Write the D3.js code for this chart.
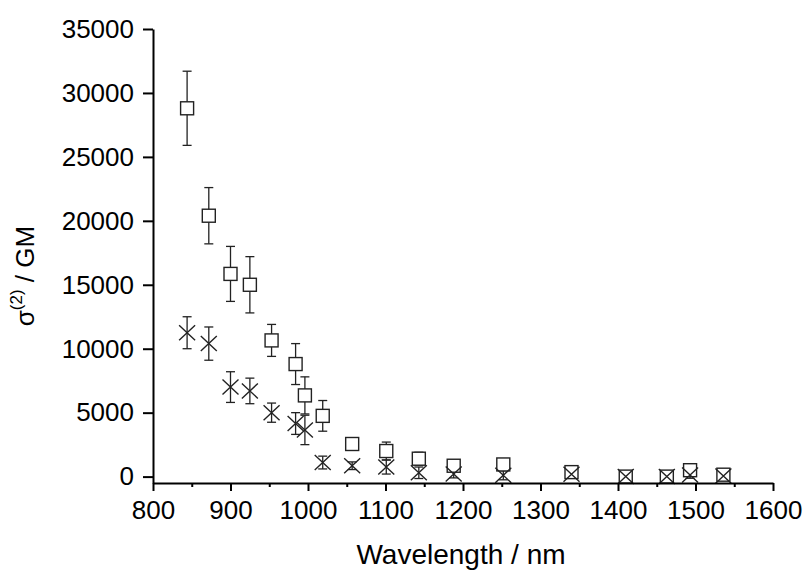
<!DOCTYPE html>
<html><head><meta charset="utf-8">
<script src="https://cdn.jsdelivr.net/npm/d3@7"></script>
<style>body{margin:0;background:#fff}svg{display:block}text{font-family:"Liberation Sans",Arial,sans-serif}</style>
</head><body><svg id="c" width="804" height="573"></svg>
<script>
const wavelengths = [844, 872, 900, 925, 953, 984, 996, 1019, 1057, 1101, 1143, 1188, 1252, 1340, 1410, 1463, 1493, 1536];
const squareVals = [28800, 20400, 15850, 15000, 10650, 8800, 6350, 4750, 2550, 2000, 1400, 850, 950, 350, 0, 0, 500, 150];
const squareErr  = [2900, 2200, 2150, 2200, 1250, 1600, 1450, 1200, 300, 700, 500, 250, 250, 200, 150, 150, 350, 200];
const crossVals  = [11250, 10400, 7000, 6700, 5000, 4150, 3650, 1100, 850, 750, 300, 200, 100, 180, 0, 0, 120, 50];
const crossErr   = [1250, 1300, 1200, 1000, 750, 850, 1150, 500, 300, 550, 450, 300, 350, 250, 150, 150, 250, 200];
const xTicks = [800, 900, 1000, 1100, 1200, 1300, 1400, 1500, 1600];
const yTicks = [0, 5000, 10000, 15000, 20000, 25000, 30000, 35000];

const svg = d3.select("#c");
const x = d3.scaleLinear().domain([800, 1600]).range([153, 773]);
const y = d3.scaleLinear().domain([-500, 35000]).range([483, 29]);
const col = "#222";

function errBars(vals, errs) {
  const g = svg.append("g").attr("stroke", col).attr("stroke-width", 1.3).attr("fill", "none");
  wavelengths.forEach((w, i) => {
    const cx = x(w), top = y(vals[i] + errs[i]), bot = y(vals[i] - errs[i]);
    g.append("line").attr("x1", cx).attr("x2", cx).attr("y1", top).attr("y2", bot);
    g.append("line").attr("x1", cx - 4.5).attr("x2", cx + 4.5).attr("y1", top).attr("y2", top);
    g.append("line").attr("x1", cx - 4.5).attr("x2", cx + 4.5).attr("y1", bot).attr("y2", bot);
  });
}
errBars(squareVals, squareErr);
errBars(crossVals, crossErr);

svg.append("g").selectAll("rect").data(wavelengths).join("rect")
  .attr("x", (d) => x(d) - 6.5).attr("y", (d, i) => y(squareVals[i]) - 6.5)
  .attr("width", 13).attr("height", 13)
  .attr("fill", "#fff").attr("stroke", col).attr("stroke-width", 1.4);

svg.append("g").selectAll("path").data(wavelengths).join("path")
  .attr("d", (d, i) => { const cx = x(d), cy = y(crossVals[i]);
    return `M${cx-8},${cy-7.5}L${cx+8},${cy+7.5}M${cx-8},${cy+7.5}L${cx+8},${cy-7.5}`; })
  .attr("fill", "none").attr("stroke", col).attr("stroke-width", 1.4);

svg.append("g").attr("class", "ax").attr("transform", "translate(0,483)")
  .call(d3.axisBottom(x).tickValues(xTicks).tickFormat(d3.format("d")).tickSize(8).tickSizeOuter(0).tickPadding(10));
svg.append("g").attr("class", "ax").attr("transform", "translate(0,483)")
  .call(d3.axisBottom(x).tickValues(d3.range(850, 1600, 100)).tickFormat("").tickSize(4).tickSizeOuter(0))
  .select(".domain").remove();
svg.append("g").attr("class", "ax").attr("transform", "translate(153,0)")
  .call(d3.axisLeft(y).tickValues(yTicks).tickFormat(d3.format("d")).tickSize(10).tickSizeOuter(0).tickPadding(9));
svg.selectAll(".ax").attr("font-size", null).attr("font-family", null);
svg.selectAll(".domain").attr("stroke", "#000").attr("stroke-width", 2);
svg.selectAll(".tick line").attr("stroke", "#000").attr("stroke-width", 2);
svg.selectAll(".tick text").style("font-size", "26px").attr("fill", "#000");

svg.append("text").attr("x", 461).attr("y", 564).attr("text-anchor", "middle")
  .style("font-size", "28px").attr("fill", "#000").text("Wavelength / nm");
const yl = svg.append("text").attr("transform", "translate(34,276) rotate(-90)")
  .attr("text-anchor", "middle").style("font-size", "26px").attr("fill", "#000");
yl.append("tspan").text("σ");
yl.append("tspan").style("font-size", "17px").attr("dy", -12).text("(2)");
yl.append("tspan").attr("dy", 12).text(" / GM");
</script></body></html>
